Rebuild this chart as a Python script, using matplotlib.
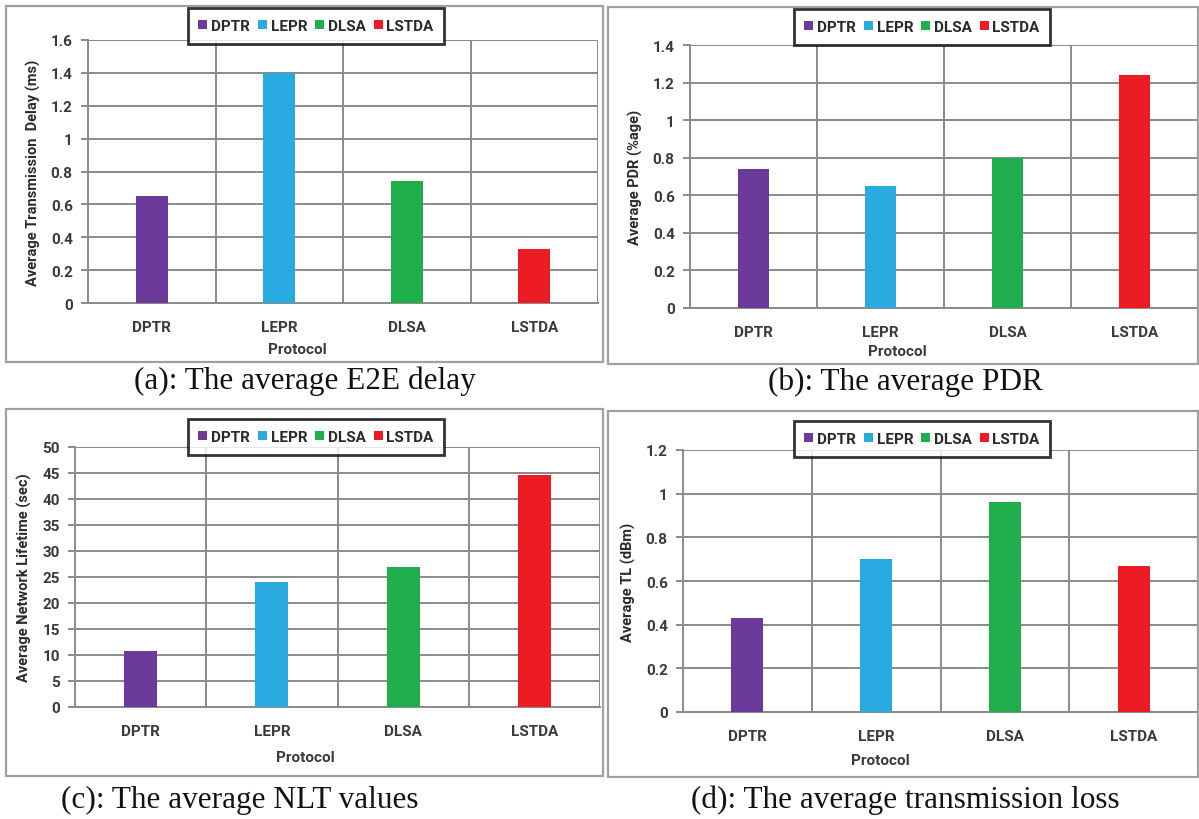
import numpy as np
import matplotlib
matplotlib.use("Agg")
import matplotlib.pyplot as plt
from matplotlib.patches import Rectangle, Patch

# ---------------------------------------------------------------------------
# Data
# ---------------------------------------------------------------------------
protocols = ["DPTR", "LEPR", "DLSA", "LSTDA"]
colors = ["#6B3A9B", "#29ABE2", "#1FAE4B", "#ED1C24"]

e2e_delay = [0.65, 1.40, 0.74, 0.33]
pdr = [0.74, 0.65, 0.80, 1.24]
nlt = [10.8, 24.0, 27.0, 44.7]
trans_loss = [0.43, 0.70, 0.96, 0.67]

W, H = 1199, 820
TXT = "#3a3a3a"
GRID = "#8a8a8a"


def fx(x):
    return x / W


def fy(y):
    return 1 - y / H


def draw_panel(fig, values, ymax, ystep, ylabel, caption, frame, plot, leg, cap_xy, proto_xy):
    # panel frame
    x0, y0, x1, y1 = frame
    fig.patches.append(Rectangle((fx(x0), fy(y1)), fx(x1 - x0), (y1 - y0) / H,
                                 transform=fig.transFigure, fill=False,
                                 edgecolor="#a0a0a0", linewidth=1.6))

    l, t, r, b = plot
    ax = fig.add_axes([fx(l), fy(b), fx(r - l), (b - t) / H])
    x = np.arange(len(protocols))
    ax.bar(x, values, width=0.25, color=colors, zorder=3)

    ax.set_xlim(-0.5, 3.5)
    ax.set_ylim(0, ymax)
    ticks = np.round(np.arange(0, ymax + ystep / 2, ystep), 3)
    ax.set_yticks(ticks)
    ax.set_yticklabels(["%g" % v for v in ticks])
    ax.set_xticks(x)
    ax.set_xticklabels(protocols)
    ax.set_xticks([0.5, 1.5, 2.5, 3.5], minor=True)

    ax.grid(True, axis="y", color=GRID, linewidth=1.4, zorder=0)
    ax.grid(True, axis="x", which="minor", color=GRID, linewidth=1.4, zorder=0)
    ax.grid(False, axis="x", which="major")

    for s in ["top", "right"]:
        ax.spines[s].set_visible(False)
    ax.spines["left"].set_color(GRID)
    ax.spines["left"].set_linewidth(1.4)
    ax.spines["bottom"].set_color(GRID)
    ax.spines["bottom"].set_linewidth(1.4)

    ax.tick_params(axis="y", length=5, width=1.4, color=GRID, labelsize=11,
                   labelcolor=TXT, pad=6)
    ax.tick_params(axis="x", which="both", length=0, labelsize=11,
                   labelcolor=TXT, pad=12)
    for lab in ax.get_xticklabels() + ax.get_yticklabels():
        lab.set_fontweight("bold")

    ax.set_ylabel(ylabel, fontsize=10.5, fontweight="bold", color="#2a2a2a", labelpad=7)

    fig.text(fx(proto_xy[0]), fy(proto_xy[1]), "Protocol", ha="center", va="center",
             fontsize=11, fontweight="bold", color=TXT)

    # legend box
    lx0, ly0, lx1, ly1 = leg
    handles = [Patch(facecolor=c, edgecolor="none", label=p) for p, c in zip(protocols, colors)]
    lg = fig.legend(handles=handles, loc="center",
                    bbox_to_anchor=(fx((lx0 + lx1) / 2), fy((ly0 + ly1) / 2)),
                    ncol=4, frameon=True, fancybox=False, handlelength=0.6,
                    handleheight=0.6, handletextpad=0.25, columnspacing=0.5,
                    borderpad=0.7, prop={"weight": "bold", "size": 11})
    lg.get_frame().set_edgecolor("black")
    lg.get_frame().set_linewidth(2.0)
    lg.set_zorder(10)
    for tx in lg.get_texts():
        tx.set_color("#2a2a2a")

    fig.text(fx(cap_xy[0]), fy(cap_xy[1]), caption, ha="center", va="center",
             fontsize=22.5, family="Liberation Serif", color="#111111")
    return ax


plt.rcParams["font.family"] = ["Roboto", "DejaVu Sans"]
fig = plt.figure(figsize=(W / 100, H / 100), dpi=100)

draw_panel(fig, e2e_delay, 1.6, 0.2, "Average Transmission  Delay (ms)",
           "(a): The average E2E delay",
           frame=(6, 7, 603, 363), plot=(88, 41, 598, 304),
           leg=(200, 8, 432, 46), cap_xy=(305, 381), proto_xy=(297, 350))

draw_panel(fig, pdr, 1.4, 0.2, "Average PDR (%age)",
           "(b): The average PDR",
           frame=(608, 8, 1198, 365), plot=(690, 46, 1198, 309),
           leg=(806, 10, 1038, 46), cap_xy=(905, 382), proto_xy=(897, 352))

draw_panel(fig, nlt, 50, 5, "Average Network Lifetime (sec)",
           "(c): The average NLT values",
           frame=(6, 410, 603, 777), plot=(75, 448, 600, 708),
           leg=(200, 418, 432, 458), cap_xy=(240, 800), proto_xy=(305, 758))

draw_panel(fig, trans_loss, 1.2, 0.2, "Average TL (dBm)",
           "(d): The average transmission loss",
           frame=(608, 412, 1198, 778), plot=(683, 451, 1198, 713),
           leg=(801, 419, 1043, 461), cap_xy=(905, 800), proto_xy=(880, 761))

fig.savefig("out.png", dpi=100)
